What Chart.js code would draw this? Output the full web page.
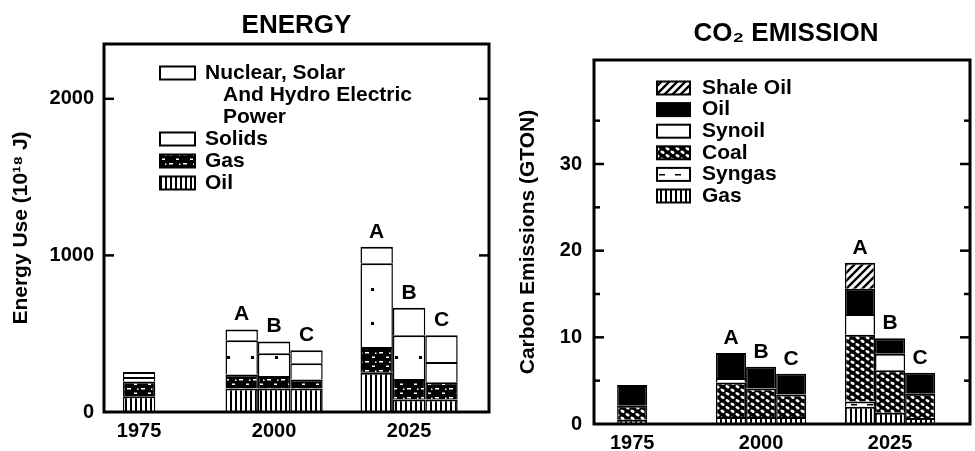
<!DOCTYPE html>
<html>
<head>
<meta charset="utf-8">
<script src="https://cdn.jsdelivr.net/npm/chart.js@4.4.1/dist/chart.umd.min.js"></script>
<style>
  html, body { margin: 0; padding: 0; background: #fff; }
  #wrap { position: relative; width: 975px; height: 451px; overflow: hidden; background: #fff; }
  #energyChart { position: absolute; left: 0; top: 0; }
  #co2Chart { position: absolute; left: 495px; top: 0; }
</style>
</head>
<body>
<div id="wrap">
  <canvas id="energyChart" width="495" height="451"></canvas>
  <canvas id="co2Chart" width="480" height="451"></canvas>
</div>
<script>
// ---- values (bottom to top of each bar) ----
const years = [1975, 2000, 2025];
const barYears = [1975, 2000, 2000, 2000, 2025, 2025, 2025];
const barScenarios = ["", "A", "B", "C", "A", "B", "C"];

// energy use, 10^18 J
const energyOil     = [100, 150, 150, 150, 250,  80,  80];
const energyGas     = [ 95,  90,  80,  58, 165, 130, 110];
const energySolids  = [ 28, 218, 145, 103, 535, 280, 130];
const energyNuclear = [ 32,  69,  75,  84, 105, 175, 170];
const energyTicks = [0, 1000, 2000];
const energyTickLabels = [0, 1000, 2000];

// carbon emissions, GTON
const co2Gas      = [0.5, 0.8, 0.8, 0.8, 2.0, 1.3, 0.7];
const co2Syngas   = [0,   0,   0,   0,   0.6, 0,   0  ];
const co2Coal     = [1.6, 4.0, 3.3, 2.6, 7.7, 4.9, 2.8];
const co2Synoil   = [0,   0.5, 0,   0,   2.4, 1.9, 0  ];
const co2Oil      = [2.4, 2.9, 2.5, 2.4, 2.9, 1.8, 2.4];
const co2ShaleOil = [0,   0,   0,   0,   3.0, 0,   0  ];
const co2Ticks = [0, 5, 10, 15, 20, 25, 30, 35];
const co2TickLabels = [0, 10, 20, 30];

const FONT = "'Liberation Sans', Arial, Helvetica, sans-serif";
const scenarioStacks = ["A", "B", "C"];

// ---- black & white fill patterns ----
function makePattern(w, h, paint) {
  const tile = document.createElement("canvas");
  tile.width = w;
  tile.height = h;
  const g = tile.getContext("2d");
  paint(g, w, h);
  return document.createElement("canvas").getContext("2d").createPattern(tile, "repeat");
}

const fills = {
  white: "#fff",
  black: "#000",
  stripes: makePattern(5, 4, (g, w, h) => {
    g.fillStyle = "#fff"; g.fillRect(0, 0, w, h);
    g.fillStyle = "#000"; g.fillRect(0, 0, 2, h);
  }),
  speckled: makePattern(14, 9, (g, w, h) => {
    g.fillStyle = "#000"; g.fillRect(0, 0, w, h);
    g.fillStyle = "#fff";
    g.fillRect(1, 1, 4, 1.5);
    g.fillRect(8, 5.5, 3, 1.5);
    g.fillRect(11, 1.5, 1.5, 1.5);
  }),
  dotted: makePattern(24, 34, (g, w, h) => {
    g.fillStyle = "#fff"; g.fillRect(0, 0, w, h);
    g.fillStyle = "#000"; g.fillRect(11, 16, 3, 3);
  }),
  hatch: makePattern(8, 8, (g, w, h) => {
    g.fillStyle = "#fff"; g.fillRect(0, 0, w, h);
    g.strokeStyle = "#000"; g.lineWidth = 2.4;
    g.beginPath();
    g.moveTo(-4, 4); g.lineTo(4, -4);
    g.moveTo(0, 8); g.lineTo(8, 0);
    g.moveTo(4, 12); g.lineTo(12, 4);
    g.stroke();
  }),
  mesh: makePattern(10, 7, (g, w, h) => {
    g.fillStyle = "#000"; g.fillRect(0, 0, w, h);
    g.fillStyle = "#fff";
    g.beginPath(); g.ellipse(2.5, 1.75, 2.2, 1.3, 0.5, 0, Math.PI * 2); g.fill();
    g.beginPath(); g.ellipse(7.5, 5.25, 2.2, 1.3, 0.5, 0, Math.PI * 2); g.fill();
  }),
  dash: makePattern(16, 10, (g, w, h) => {
    g.fillStyle = "#fff"; g.fillRect(0, 0, w, h);
    g.fillStyle = "#000"; g.fillRect(4, 4, 6, 1.5);
  })
};

const energySources = [
  { label: "Oil", values: energyOil, fill: fills.stripes },
  { label: "Gas", values: energyGas, fill: fills.speckled },
  { label: "Solids", values: energySolids, fill: fills.dotted },
  { label: "Nuclear, Solar\nAnd Hydro Electric\nPower", values: energyNuclear, fill: fills.white }
];

const co2Sources = [
  { label: "Gas", values: co2Gas, fill: fills.stripes },
  { label: "Syngas", values: co2Syngas, fill: fills.dash },
  { label: "Coal", values: co2Coal, fill: fills.mesh },
  { label: "Synoil", values: co2Synoil, fill: fills.white },
  { label: "Oil", values: co2Oil, fill: fills.black },
  { label: "Shale Oil", values: co2ShaleOil, fill: fills.hatch }
];

// the historic 1975 bar sits in the middle column, under its year label
function stackOf(i) {
  return barScenarios[i] || "B";
}

function barIndex(year, stack) {
  return barYears.findIndex((y, k) => y === year && stackOf(k) === stack);
}

function buildDatasets(sources, catPct) {
  const out = [];
  sources.forEach((src) => {
    scenarioStacks.forEach((s) => {
      out.push({
        label: src.label,
        stack: s,
        data: years.map((yr) => {
          const i = barIndex(yr, s);
          const v = i < 0 ? 0 : src.values[i];
          return { x: yr, y: v > 0 ? v : null };
        }),
        backgroundColor: src.fill,
        borderColor: "#000",
        borderWidth: { top: 2, left: 1.5, right: 1.5, bottom: 0 },
        borderSkipped: false,
        categoryPercentage: catPct,
        barPercentage: 1
      });
    });
  });
  return out;
}

const sketchPlugin = {
  id: "sketch",
  afterDraw(chart, args, opts) {
    const { ctx, chartArea: a } = chart;
    const y = chart.scales.y;
    const line = (x1, y1, x2, y2) => {
      ctx.beginPath(); ctx.moveTo(x1, y1); ctx.lineTo(x2, y2); ctx.stroke();
    };
    ctx.save();
    ctx.strokeStyle = "#000";
    ctx.fillStyle = "#000";

    // frame
    ctx.lineWidth = 3;
    ctx.strokeRect(a.left, a.top, a.right - a.left, a.bottom - a.top);

    // inward tick marks on both sides
    ctx.lineWidth = 2.5;
    y.ticks.forEach((t) => {
      if (t.value === 0) return;
      const py = y.getPixelForValue(t.value);
      const len = t.value % opts.majorStep === 0 ? 10 : 6;
      line(a.left, py, a.left + len, py);
      line(a.right, py, a.right - len, py);
    });

    // panel title
    ctx.font = "bold 26px " + FONT;
    ctx.textAlign = "center";
    ctx.textBaseline = "middle";
    ctx.fillText(opts.title, (a.left + a.right) / 2 + opts.titleDx, opts.titleY);

    // legend, top of stack first
    const lg = opts.legend;
    ctx.font = "bold 21px " + FONT;
    ctx.textAlign = "left";
    let ly = a.top + lg.dy;
    opts.sources.slice().reverse().forEach((src) => {
      const sx = a.left + lg.dx;
      ctx.fillStyle = src.fill;
      ctx.fillRect(sx, ly - lg.swH / 2, lg.swW, lg.swH);
      ctx.lineWidth = 2;
      ctx.strokeRect(sx, ly - lg.swH / 2, lg.swW, lg.swH);
      ctx.fillStyle = "#000";
      src.label.split("\n").forEach((txt, k) => {
        ctx.fillText(txt, a.left + lg.textDx + (k ? 18 : 0), ly);
        ly += lg.step;
      });
    });

    // scenario letters above the A/B/C bars
    ctx.font = "bold 21px " + FONT;
    ctx.textAlign = "center";
    barScenarios.forEach((sc, i) => {
      if (!sc) return;
      const yearIdx = years.indexOf(barYears[i]);
      const dsIdx = chart.data.datasets.findIndex((d) => d.stack === sc);
      const el = chart.getDatasetMeta(dsIdx).data[yearIdx];
      const total = opts.sources.reduce((sum, src) => sum + src.values[i], 0);
      ctx.fillText(sc, el.x, y.getPixelForValue(total) - 15);
    });
    ctx.restore();
  }
};

function makeChart(canvasId, cfg) {
  const tickFont = { family: FONT, size: 20, weight: "bold" };
  return new Chart(document.getElementById(canvasId), {
    type: "bar",
    data: { datasets: buildDatasets(cfg.sources, cfg.catPct) },
    options: {
      responsive: false,
      animation: false,
      devicePixelRatio: 1,
      layout: { padding: cfg.padding },
      plugins: {
        legend: { display: false },
        tooltip: { enabled: false },
        sketch: {
          title: cfg.title, titleY: cfg.titleY, titleDx: cfg.titleDx,
          majorStep: cfg.majorStep, sources: cfg.sources, legend: cfg.legend
        }
      },
      scales: {
        x: {
          type: "linear",
          stacked: true,
          min: cfg.xMin,
          max: cfg.xMax,
          offset: false,
          grid: { display: false, drawTicks: false },
          border: { display: false },
          afterBuildTicks: (s) => { s.ticks = years.map((v) => ({ value: v })); },
          afterFit: (s) => { s.height = cfg.xHeight; },
          ticks: { font: tickFont, color: "#000", padding: 7, maxRotation: 0, autoSkip: false,
                   callback: (v) => String(v) }
        },
        y: {
          stacked: true,
          min: 0,
          max: cfg.yMax,
          grid: { display: false, drawTicks: false },
          border: { display: false },
          afterBuildTicks: (s) => { s.ticks = cfg.ticks.map((v) => ({ value: v })); },
          afterFit: (s) => { s.width = cfg.yWidth; },
          ticks: {
            padding: cfg.tickPad,
            autoSkip: false,
            font: tickFont,
            color: "#000",
            callback: (v) => (cfg.tickLabels.includes(v) ? String(v) : "")
          },
          title: {
            display: true,
            text: cfg.yTitle,
            color: "#000",
            font: { family: FONT, size: 21, weight: "bold" },
            padding: { top: cfg.yTitlePad, bottom: 0 }
          }
        }
      }
    },
    plugins: [sketchPlugin]
  });
}

makeChart("energyChart", {
  sources: energySources,
  catPct: 0.72,
  padding: { top: 44, right: 6, bottom: 0, left: 0 },
  xMin: 1968.5, xMax: 2039.8, xHeight: 39,
  yMax: 2350, yWidth: 104, majorStep: 1000, tickPad: 10,
  ticks: energyTicks, tickLabels: energyTickLabels,
  yTitle: "Energy Use (10¹⁸ J)", yTitlePad: 9,
  title: "ENERGY", titleY: 26, titleDx: 0,
  legend: { dx: 56, dy: 29, textDx: 101, swW: 35, swH: 13, step: 22 }
});

makeChart("co2Chart", {
  sources: co2Sources,
  catPct: 0.70,
  padding: { top: 60, right: 5, bottom: 0, left: 0 },
  xMin: 1967.6, xMax: 2040.5, xHeight: 27,
  yMax: 42, yWidth: 99, majorStep: 10, tickPad: 12,
  ticks: co2Ticks, tickLabels: co2TickLabels,
  yTitle: "Carbon Emissions (GTON)", yTitlePad: 21,
  title: "CO₂ EMISSION", titleY: 34, titleDx: 4,
  legend: { dx: 63, dy: 28, textDx: 108, swW: 33, swH: 13, step: 21.6 }
});
</script>
</body>
</html>
